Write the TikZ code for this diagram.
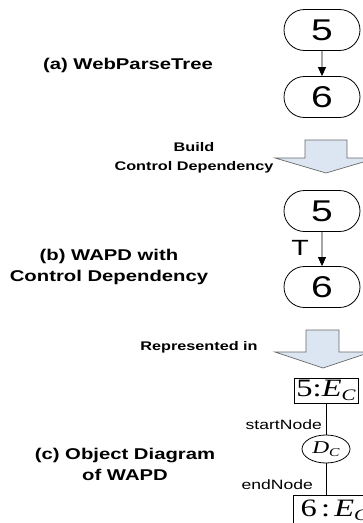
\documentclass[tikz,border=0pt]{standalone}
\usepackage{fontspec}
\newfontfamily\sansw{Liberation Sans}[FakeStretch=1.3]
\newfontfamily\serifw{Liberation Serif}[FakeStretch=1.3]
\usetikzlibrary{arrows.meta,shapes.misc,shapes.geometric}

\definecolor{arrowfill}{RGB}{220,230,242}
\definecolor{arrowline}{RGB}{105,105,105}

% italic letter with a lowered italic C as subscript
\newcommand{\withsubc}[3]{{\itshape #1}\raisebox{-#3}{\fontsize{#2}{#2}\selectfont\itshape C}}

\begin{document}
\begin{tikzpicture}[x=1pt,y=-1pt,
  pill/.style={draw, rounded rectangle, minimum width=76pt, minimum height=41pt,
    inner sep=0pt, line width=0.8pt, font=\sansw\fontsize{30}{30}\selectfont},
  flow/.style={-{Triangle[width=8pt,length=9pt]}, line width=0.8pt},
  biglabel/.style={font=\sansw\bfseries\fontsize{15.6}{21}\selectfont, align=center},
  steplabel/.style={font=\sansw\bfseries\fontsize{12.5}{19}\selectfont, align=center},
  objbox/.style={draw, line width=0.8pt, inner sep=0pt, font=\serifw\fontsize{25}{25}\selectfont},
  role/.style={font=\sansw\fontsize{13.5}{13.5}\selectfont, anchor=east, inner sep=0pt},
  blockarrow/.style={draw=arrowline, fill=arrowfill, line width=0.7pt, line join=miter},
  link/.style={line width=0.8pt}
]
\clip (0,0) rectangle (363,523);

% (a) parse tree
\node[pill] (a5) at (322,30) {5};
\node[pill] (a6) at (322,97) {6};
\draw[flow] (a5) -- (a6);
\node[biglabel] (la) at (128,65) {(a) WebParseTree};

% transformation step 1
\draw[blockarrow] (305,140) -- (347,140) -- (347,158) -- (377,158) -- (326,173)
  -- (275,158) -- (305,158) -- cycle;
\node[steplabel] (s1) at (194,158) {Build\\Control Dependency};

% (b) WAPD with control dependency
\node[pill] (b5) at (322,211) {5};
\node[pill] (b6) at (322,287) {6};
\draw[flow] (b5) -- (b6);
\node[font=\sansw\fontsize{22}{22}\selectfont, inner sep=0pt] (t) at (300,248) {T};
\node[biglabel] (lb) at (109,267) {(b) WAPD with\\Control Dependency};

% transformation step 2
\draw[blockarrow] (306,330) -- (339,330) -- (339,352) -- (371,352) -- (323,368)
  -- (275,352) -- (306,352) -- cycle;
\node[steplabel] (s2) at (199,347) {Represented in};

% (c) object diagram
\node[objbox, minimum width=64pt, minimum height=25pt] (c5) at (326,390.5)
  {5:\withsubc{E}{16}{4pt}};
\node[draw, ellipse, line width=0.8pt, minimum width=48pt, minimum height=28pt,
  inner sep=0pt, font=\serifw\fontsize{18}{18}\selectfont] (dc) at (326,449)
  {\withsubc{D}{12}{3pt}};
\node[objbox, anchor=north west, minimum width=82pt, minimum height=30pt] (c6) at (293,495)
  {6\,:\,\withsubc{E}{16}{4pt}};
\draw[link] (c5) -- (dc);
\draw[link] (dc.south) -- (dc.south |- c6.north);
\node[role] (sn) at (322,425) {startNode};
\node[role] (en) at (313,485) {endNode};
\node[biglabel] (lc) at (125,464) {(c) Object Diagram\\of WAPD};
\end{tikzpicture}
\end{document}
